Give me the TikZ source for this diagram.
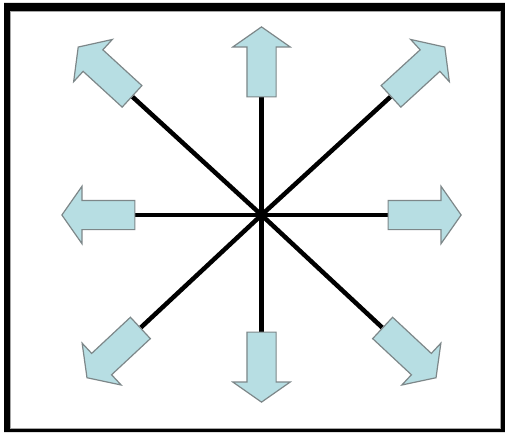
\documentclass[tikz,border=0pt]{standalone}
\usetikzlibrary{shapes.arrows,backgrounds}
\definecolor{arrowfill}{RGB}{183,222,227}
\definecolor{arrowline}{RGB}{125,135,137}
\tikzset{
  blockarrow/.style={single arrow, draw=arrowline, fill=arrowfill, line width=1.2pt,
    minimum height=73pt, single arrow head extend=14pt,
    single arrow tip angle=110, single arrow head indent=0pt, inner xsep=0pt, inner ysep=14pt},
  spoke/.style={line width=4.5pt, black}
}
\begin{document}
\begin{tikzpicture}[x=1pt,y=1pt]
\useasboundingbox (0,0) rectangle (505,432);
\begin{scope}[shift={(261.5,217)}]
\coordinate (c) at (0,0);
\node[blockarrow, rotate=0]     (r)  at (0:158pt) {};
\node[blockarrow, rotate=180]   (l)  at (180:158pt) {};
\node[blockarrow, rotate=90, minimum height=70pt]  (u)  at (90:148pt) {};
\node[blockarrow, rotate=-90, minimum height=70pt] (d)  at (-90:147pt) {};
\node[blockarrow, rotate=42.5]  (ur) at (42.5:207pt) {};
\node[blockarrow, rotate=137.5] (ul) at (137.5:207pt) {};
\node[blockarrow, rotate=-137]  (dl) at (-137:197pt) {};
\node[blockarrow, rotate=-43]   (dr) at (-43:197pt) {};
\end{scope}
\begin{scope}[on background layer]
\fill[white] (0,0) rectangle (505,432);
\fill[black,even odd rule] (4,0) rectangle (505,429) (10,3) rectangle (501,421);
\draw[gray!70,line width=0.8pt] (10.4,3.4) rectangle (500.6,420.6);
\foreach \a in {r,l,u,d,ur,ul,dl,dr}{
  \draw[spoke] (c) -- (\a.tail);
}
\end{scope}
\end{tikzpicture}
\end{document}
